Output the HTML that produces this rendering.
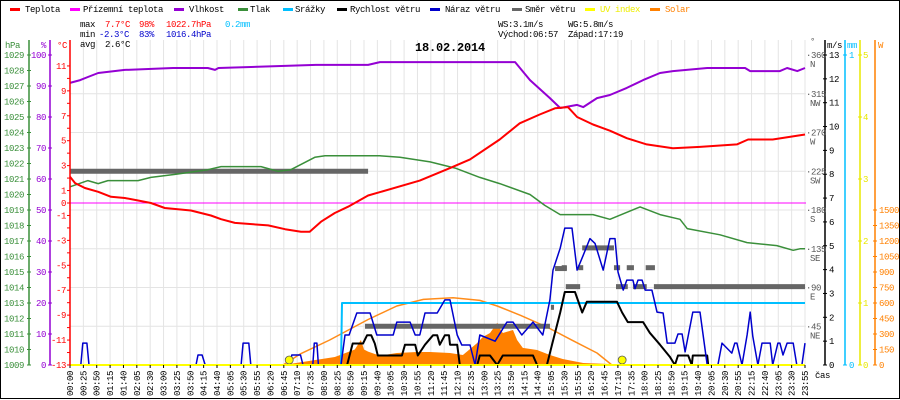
<!DOCTYPE html>
<html><head><meta charset="utf-8">
<style>
html,body{margin:0;padding:0;background:#fff;}
svg{display:block;}
text{font-family:"Liberation Mono",monospace;font-size:9px;letter-spacing:-0.4px;}
</style></head>
<body>
<svg id="chart" width="900" height="400" viewBox="0 0 900 400" xmlns="http://www.w3.org/2000/svg">
<rect x="0.5" y="0.5" width="899" height="398" fill="#fff" stroke="#000"/>
<g id="grid"></g>
<g id="series"></g>
<g id="axes"></g>
<g>
 <g><rect x="10" y="8" width="10" height="3" fill="#f00"/><text x="25" y="12">Teplota</text></g>
 <g><rect x="70" y="8" width="10" height="3" fill="#f0f"/><text x="83" y="12">Přízemní teplota</text></g>
 <g><rect x="174" y="8" width="10" height="3" fill="#9400d3"/><text x="189" y="12">Vlhkost</text></g>
 <g><rect x="238" y="8" width="10" height="3" fill="#3a8f3a"/><text x="250" y="12">Tlak</text></g>
 <g><rect x="283" y="8" width="10" height="3" fill="#00bfff"/><text x="295" y="12">Srážky</text></g>
 <g><rect x="337" y="8" width="10" height="3" fill="#000"/><text x="350" y="12">Rychlost větru</text></g>
 <g><rect x="430" y="8" width="10" height="3" fill="#0000cc"/><text x="445" y="12">Náraz větru</text></g>
 <g><rect x="512" y="8" width="10" height="3" fill="#666"/><text x="525" y="12">Směr větru</text></g>
 <g><rect x="585" y="8" width="10" height="3" fill="#ff0"/><text x="600" y="12" fill="#ee0">UV index</text></g>
 <g><rect x="650" y="8" width="10" height="3" fill="#ff8000"/><text x="665" y="12" fill="#ff8000">Solar</text></g>
</g>
<g>
 <text x="80" y="27">max</text><text x="105" y="27" fill="#f00">7.7°C</text><text x="139" y="27" fill="#f00">98%</text><text x="166" y="27" fill="#f00">1022.7hPa</text><text x="225" y="27" fill="#00bfff">0.2mm</text>
 <text x="80" y="37">min</text><text x="99" y="37" fill="#00c">-2.3°C</text><text x="139" y="37" fill="#00c">83%</text><text x="166" y="37" fill="#00c">1016.4hPa</text>
 <text x="80" y="47">avg</text><text x="105" y="47">2.6°C</text>
 <text x="498" y="27">WS:3.1m/s</text><text x="568" y="27">WG:5.8m/s</text>
 <text x="498" y="37">Východ:06:57</text><text x="568" y="37">Západ:17:19</text>
</g>
<text x="450" y="51" text-anchor="middle" style="font-size:12px;font-weight:bold;letter-spacing:-0.2px">18.02.2014</text>
</svg>
<script>
// time domain in minutes (sample position), x labels
const xLabels=["00:00","00:25","00:50","01:15","01:40","02:05","02:30","03:00","03:25","03:50","04:15","04:40","05:05","05:30","05:55","06:20","06:45","07:10","07:35","08:00","08:25","08:50","09:15","09:40","10:05","10:30","10:55","11:20","11:45","12:10","12:35","13:00","13:25","13:50","14:15","14:40","15:05","15:30","15:55","16:20","16:45","17:10","17:35","18:00","18:25","18:50","19:15","19:40","20:05","20:30","20:55","22:15","22:40","23:05","23:30","23:55"];
const tempT=[0,10,29,55,80,107,133,158,185,236,275,295,322,387,420,451,468,490,517,543,582,683,742,781,839,878,917,947,972,990,1021,1054,1087,1126,1177,1230,1302,1324,1372,1435];
const tempV=[2.1,1.6,1.2,0.9,0.5,0.4,0.2,0.0,-0.4,-0.6,-1.0,-1.3,-1.6,-1.8,-2.1,-2.3,-2.3,-1.5,-0.8,-0.3,0.6,1.8,2.8,3.5,5.1,6.4,7.1,7.6,7.7,6.9,6.3,5.8,5.2,4.7,4.4,4.5,4.7,5.1,5.1,5.5];
const humT=[0,20,35,55,107,201,269,283,290,480,582,605,869,898,937,957,990,1002,1029,1054,1087,1119,1152,1177,1244,1318,1328,1386,1400,1420,1435];
const humV=[91.0,91.9,92.9,94.2,95.2,95.8,95.8,95.2,95.8,96.8,96.8,97.7,97.7,91.9,86.1,82.9,83.9,83.2,86.1,87.1,89.4,91.9,94.2,94.8,95.8,95.8,94.8,94.8,95.8,94.8,95.8];
const presT=[0,35,55,74,133,158,205,269,295,373,406,431,478,498,568,605,644,703,752,800,839,898,927,957,1021,1054,1113,1152,1191,1205,1269,1322,1380,1412,1425,1435];
const presV=[1020.5,1020.9,1020.7,1020.9,1020.9,1021.1,1021.3,1021.6,1021.8,1021.8,1021.5,1021.6,1022.4,1022.5,1022.5,1022.5,1022.4,1022.1,1021.7,1021.1,1020.7,1020.0,1019.3,1018.7,1018.7,1018.4,1019.2,1018.7,1018.4,1017.8,1017.4,1016.9,1016.7,1016.4,1016.5,1016.5];
const rainT=[0,529,531,1435];
const rainV=[0,0,0.2,0.2];
const windT=[0,541,552,572,580,588,595,601,648,654,674,679,693,709,717,722,732,740,742,756,761,795,800,820,834,845,904,912,931,941,957,966,986,1000,1009,1068,1078,1089,1119,1132,1152,1171,1181,1187,1207,1214,1216,1244,1246,1435];
const windV=[0,0,0.9,0.9,1.25,1.25,0.9,0.4,0.4,0.85,0.85,0.4,0.85,1.25,1.25,0.85,1.25,1.25,0.85,0.85,0,0,0.4,0.4,0,0.4,0.4,0,0,0.85,2.2,3.06,3.06,2.2,2.65,2.65,2.2,1.8,1.8,1.35,0.85,0.35,0,0.4,0.4,0,0.4,0.4,0,0];
const gustT=[0,21,25,33,37,246,250,258,264,334,338,349,353,429,433,450,455,474,477,482,485,529,537,545,560,586,599,631,638,664,674,683,693,717,732,742,756,765,781,791,800,830,853,865,882,904,923,937,943,957,966,980,990,1002,1015,1025,1041,1054,1064,1070,1080,1087,1099,1103,1109,1117,1123,1136,1146,1158,1166,1181,1187,1195,1201,1216,1230,1244,1265,1273,1292,1298,1302,1312,1322,1328,1333,1343,1351,1367,1372,1382,1386,1392,1400,1412,1419,1429,1435];
const gustV=[0,0,0.92,0.92,0,0,0.42,0.42,0,0,0.92,0.92,0,0,0.42,0.42,0,0,0.92,0.92,0,0,1.26,1.26,2.18,2.18,1.26,1.26,1.8,1.8,1.26,1.26,2.18,2.18,2.73,2.73,1.26,0.84,0.84,0,1.26,1.0,1.8,1.8,1.26,1.8,1.26,2.73,3.98,4.9,5.74,5.74,3.98,4.6,5.3,5.1,3.98,5.3,5.3,3.9,3.14,3.56,3.56,3.2,3.56,3.56,3.14,3.14,2.22,2.18,0.92,0.92,1.3,1.3,0.55,2.22,2.22,0,0,0.92,0.5,0.92,0.92,0,1.26,2.22,1.2,0,0.92,0.92,0,0.92,0.92,0.42,0.92,0.92,0,0,0.92];
const dirStart=[0,576,939,947,960,992,1000,1062,1087,1124,968,1066,1099,1140];
const dirEnd=[582,937,945,970,970,1002,1062,1074,1101,1142,996,1089,1126,1435];
const dirDeg=[225,45,67,112,113,113,136,113,113,113,91,91,91,91];
const solarT=[416,517,556,568,574,582,605,638,677,703,742,767,795,806,820,834,839,845,865,873,884,912,937,962,1002,1054,1062];
const solarV=[0,77,150,242,150,130,90,116,126,126,116,97,213,271,310,407,358,310,339,242,165,145,97,58,19,10,0];
const solarMaxT=[416,449,507,582,638,690,748,800,834,880,931,980,1029,1058];
const solarMaxV=[0,105,242,440,571,635,650,625,571,480,368,240,116,0];
const uvT=[0,1435];
const uvV=[0,0];
const sunMarkT=[428,1078];

const NS='http://www.w3.org/2000/svg';
const X0=70,X1=805,TMAX=1435,YB=365,YT=55;
function xs(t){return X0+t*(X1-X0)/TMAX;}
function yTemp(v){return 203-v*12.46;}
function yHum(v){return YB-v*(YB-YT)/100;}
function yPres(v){return YT+(1029-v)*(YB-YT)/20;}
function yWind(v){return YB-v*(YB-YT)/13;}
function yDir(v){return YB-v*(YB-YT)/360;}
function yRain(v){return YB-v*(YB-YT)/1;}
function yUV(v){return YB-v*(YB-YT)/5;}
function ySolar(v){return YB-v*(YB-210)/1500;}
function mk(tag,attrs,parent){const e=document.createElementNS(NS,tag);for(const k in attrs)e.setAttribute(k,attrs[k]);parent.appendChild(e);return e;}
const grid=document.getElementById('grid'),ser=document.getElementById('series'),ax=document.getElementById('axes');

// grid
for(let i=0;i<xLabels.length;i++){
 const x=X0+i*(X1-X0)/(xLabels.length-1);
 const l=mk('line',{x1:x,x2:x,y1:40,y2:YB,stroke:'#e4e4e4','stroke-width':1},grid);
 
 
 const tk=mk('line',{x1:x,x2:x,y1:YB,y2:YB+3,stroke:'#000'},ax);
 
 
 const tx=mk('text',{x:0,y:0,transform:`translate(${x+3},396) rotate(-90)`},ax);
 tx.textContent=xLabels[i];
 
 
}
for(let k=1;k<8;k++){
 const y=YT+k*(YB-YT)/8;
 const l=mk('line',{x1:X0,x2:806,y1:y,y2:y,stroke:'#e4e4e4'},grid);
 
 
}
const zl=mk('line',{x1:X0,x2:806,y1:yTemp(0),y2:yTemp(0),stroke:'#f0f'},grid);



function pts(T,V,yf){return T.map((t,i)=>xs(t).toFixed(1)+','+yf(V[i]).toFixed(1)).join(' ');}
function line(T,V,yf,color,w,name){
 const p=mk('polyline',{points:pts(T,V,yf),fill:'none',stroke:color,'stroke-width':w,'stroke-linejoin':'round'},ser);
 
 
}
// solar fill
const sp=mk('polygon',{points:pts(solarT,solarV,ySolar),fill:'#ff8000'},ser);


line(solarMaxT,solarMaxV,ySolar,'#ff8c1a',1.5,'solar-max-line');
line(rainT,rainV,yRain,'#00bfff',2,'rain-line');
for(let i=0;i<dirDeg.length;i++){
 const y=yDir(dirDeg[i]);
 const r=mk('rect',{x:xs(dirStart[i]),y:y-2.5,width:xs(dirEnd[i])-xs(dirStart[i]),height:5,fill:'#666'},ser);
 
 
}
line(presT,presV,yPres,'#3a8f3a',1.5,'pressure-line');
line(humT,humV,yHum,'#9400d3',2,'humidity-line');
line(tempT,tempV,yTemp,'#f00',2,'temperature-line');
line(windT,windV,yWind,'#000',2,'wind-speed-line');
line(gustT,gustV,yWind,'#0000cc',1.5,'wind-gust-line');
line(uvT,uvV,yUV,'#ff0',2,'uv-line');
for(const t of sunMarkT){
 const c=mk('circle',{cx:xs(t),cy:360,r:4,fill:'#ff0',stroke:'#555','stroke-width':0.8},ser);
 
 
}

// axes
function vaxis(x,color,name){const l=mk('line',{x1:x,x2:x,y1:40,y2:YB,stroke:color,'stroke-width':1.5},ax);}
function label(x,y,s,color,anchor,name){const t=mk('text',{x:x,y:y,fill:color,'text-anchor':anchor||'start'},ax);t.textContent=s;return t;}
function tick(x1,x2,y,color){const t=mk('line',{x1:x1,x2:x2,y1:y,y2:y,stroke:color},ax);}
const G='#3a8f3a',P='#9400d3',R='#f00',C='#00bfff',Y='#e8e800',O='#ff8000';
vaxis(29,G,'pressure-axis');vaxis(50,P,'humidity-axis');vaxis(70,R,'temperature-axis');
label(5,48,'hPa',G,'start','pressure-axis-title');label(41,48,'%',P,'start','humidity-axis-title');label(57,48,'°C',R,'start','temperature-axis-title');
for(let p=1009;p<=1029;p++){const y=yPres(p);tick(27,31,y,G);label(24,y+3,String(p),G,'end','pressure-tick-label');}
for(let h=0;h<=100;h+=10){const y=yHum(h);tick(48,52,y,P);label(46,y+3,String(h),P,'end','humidity-tick-label');}
for(let c=-13;c<=11;c++){const y=yTemp(c);tick(67,70,y,R);if(c%2!==0||c===0)label(66,y+3,String(c),R,'end','temperature-tick-label');}
line([0,TMAX],[0,0],v=>YB,'#000',1,'x-axis-line');
line(uvT,uvV,yUV,'#ff0',2,'uv-baseline');
// right axes
vaxis(825,'#000','wind-speed-axis');vaxis(845,C,'rain-axis');vaxis(860,Y,'uv-axis');vaxis(875,O,'solar-axis');
label(810,44,'°','#555','start','direction-axis-title');label(827,48,'m/s','#000','start','wind-speed-axis-title');label(847,48,'mm',C,'start','rain-axis-title');label(878,48,'W',O,'start','solar-axis-title');
const dirNames=['','NE','E','SE','S','SW','W','NW','N'];
for(let d=45;d<=360;d+=45){const y=yDir(d);label(806,y+3,'·'+d,'#555','start','direction-tick-label');label(810,y+12,dirNames[d/45],'#555','start','direction-compass-label');}
for(let v=0;v<=13;v++){const y=yWind(v);tick(823,827,y,'#000');label(829,y+3,String(v),'#000','start','wind-speed-tick-label');}
for(let v=0;v<=1;v++){const y=yRain(v);tick(843,847,y,C);label(849,y+3,String(v),C,'start','rain-tick-label');}
for(let v=0;v<=5;v++){const y=yUV(v);tick(858,862,y,Y);label(863,y+3,String(v),Y,'start','uv-tick-label');}
for(let v=0;v<=1500;v+=150){const y=ySolar(v);tick(873,877,y,O);label(879,y+3,String(v),O,'start','solar-tick-label');}
label(815,378,'čas','#000','start','x-axis-title');
</script>
</body></html>
